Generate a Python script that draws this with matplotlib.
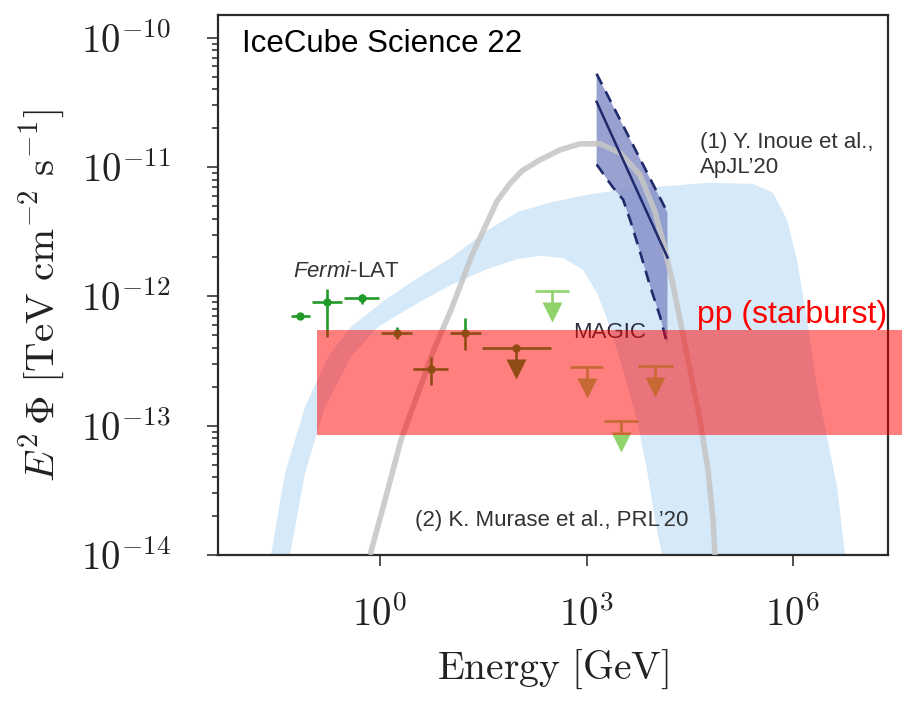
import numpy as np
import matplotlib.pyplot as plt
from matplotlib.patches import Rectangle
from matplotlib.ticker import FixedLocator, FixedFormatter, NullLocator, LogLocator, NullFormatter

plt.rcParams['font.family'] = ['Liberation Sans', 'DejaVu Sans']
plt.rcParams['mathtext.fontset'] = 'cm'
# used only by texts drawn with math_fontfamily='custom'
plt.rcParams['mathtext.rm'] = 'Liberation Sans'
plt.rcParams['mathtext.it'] = 'Liberation Sans:italic'

# Fermi-LAT flux points [GeV], [TeV cm^-2 s^-1]
fermi_E = np.array([0.069, 0.17, 0.55, 1.77, 5.5, 17.2])
fermi_E_lo = np.array([0.051, 0.103, 0.30, 1.035, 3.0, 10.4])
fermi_E_hi = np.array([0.096, 0.28, 0.97, 2.92, 9.7, 29.3])
fermi_F = np.array([7.06e-13, 9.06e-13, 9.73e-13, 5.22e-13, 2.75e-13, 5.22e-13])
fermi_F_lo = np.array([6.8e-13, 4.86e-13, 8.75e-13, 4.69e-13, 2.07e-13, 3.85e-13])
fermi_F_hi = np.array([7.3e-13, 1.14e-12, 1.04e-12, 5.81e-13, 3.40e-13, 6.82e-13])

# Fermi-LAT upper limit (last bin)
fermi_ul_E = np.array([94.6])
fermi_ul_E_lo = np.array([30.3])
fermi_ul_E_hi = np.array([305.0])
fermi_ul_F = np.array([4.0e-13])

# MAGIC upper limits
magic_E = np.array([316, 1017, 3170, 9890])
magic_E_lo = np.array([179, 576, 1796, 5600])
magic_E_hi = np.array([557, 1738, 5600, 18070])
magic_F = np.array([1.10e-12, 2.85e-13, 1.09e-13, 2.90e-13])

# IceCube neutrino spectrum: best fit and 1 sigma contour
icecube_E = np.array([1.4e3, 1.5e4])
icecube_best = np.array([3.2e-11, 2.0e-12])
icecube_upper = np.array([5.27e-11, 4.45e-12])
icecube_lower_E = np.array([1.4e3, 2.4e3, 3.4e3, 4.3e3, 6.0e3, 8.4e3, 1.17e4, 1.5e4])
icecube_lower_F = np.array([1.05e-11, 7.0e-12, 5.6e-12, 3.9e-12, 2.2e-12, 1.2e-12, 7.0e-13, 4.2e-13])

# disk-corona model band (log10 E, log10 E^2 Phi): outer and inner edges
band_outer_logE = np.array([-1.584, -1.380, -1.090, -0.755, -0.421, 0.073, 0.552, 1.032, 1.526,
                            2.005, 2.513, 3.007, 3.487, 4.213, 4.751, 5.419, 5.710, 5.913,
                            6.058, 6.204, 6.349, 6.494, 6.640, 6.756])
band_outer_logF = np.array([-14.0, -13.366, -12.855, -12.468, -12.236, -12.027, -11.857, -11.702,
                            -11.501, -11.346, -11.269, -11.215, -11.176, -11.145, -11.122, -11.130,
                            -11.199, -11.408, -11.718, -12.182, -12.700, -13.087, -13.474, -14.0])
band_inner_logE = np.array([-1.308, -1.090, -0.799, -0.421, -0.029, 0.552, 1.032, 1.526, 2.005,
                            2.325, 2.659, 2.949, 3.153, 3.342, 3.530, 3.734, 3.879, 3.995, 4.097])
band_inner_logF = np.array([-14.0, -13.366, -12.855, -12.468, -12.236, -12.050, -11.911, -11.795,
                            -11.710, -11.687, -11.702, -11.795, -11.973, -12.236, -12.569, -12.956,
                            -13.342, -13.729, -14.0])

# second model curve (log10 E, log10 E^2 Phi)
model_logE = np.array([-0.145, 0.073, 0.305, 0.552, 0.799, 1.032, 1.337, 1.526, 1.700, 1.889,
                       2.063, 2.325, 2.615, 2.906, 3.196, 3.487, 3.777, 3.995, 4.141, 4.257,
                       4.359, 4.504, 4.649, 4.765, 4.838, 4.867])
model_logF = np.array([-14.0, -13.574, -13.110, -12.747, -12.391, -12.104, -11.679, -11.462,
                       -11.263, -11.127, -11.029, -10.944, -10.867, -10.820, -10.820, -10.890,
                       -11.060, -11.346, -11.640, -11.911, -12.182, -12.569, -12.956, -13.342,
                       -13.729, -14.0])

# pp (starburst) expectation box
pp_E_min = 0.122
pp_F_min, pp_F_max = 8.5e-14, 5.5e-13

x_ticks = [1e0, 1e3, 1e6]
x_tick_labels = [r'$10^{0}$', r'$10^{3}$', r'$10^{6}$']
y_ticks = [1e-14, 1e-13, 1e-12, 1e-11, 1e-10]
y_tick_labels = [r'$10^{-14}$', r'$10^{-13}$', r'$10^{-12}$', r'$10^{-11}$', r'$10^{-10}$']

green = '#229a2a'
light_green = '#8fd36a'
navy = '#1f2b6c'
ARROW = 0.16  # decades from the cap to the centre of the arrow head


def upper_limits(ax, E, lo, hi, F, color):
    ax.hlines(F, lo, hi, color=color, lw=1.9, zorder=5)
    tip = F * 10 ** -ARROW
    for e, f, t in zip(E, F, tip):
        ax.plot([e, e], [f, t], color=color, lw=1.9, zorder=5)
    ax.plot(E, tip, 'v', color=color, ms=14.5, mec='none', zorder=5)


fig = plt.figure(figsize=(9.03, 7.07), dpi=100)
ax = fig.add_axes([218 / 903, 1 - 555 / 707, 670 / 903, 540 / 707])
ax.set_xscale('log')
ax.set_yscale('log')

ax.fill(10 ** np.concatenate([band_outer_logE, band_inner_logE[::-1]]),
        10 ** np.concatenate([band_outer_logF, band_inner_logF[::-1]]),
        color='#d5e9f8', lw=0, zorder=1)

ax.fill(np.concatenate([icecube_E, icecube_lower_E[::-1]]),
        np.concatenate([icecube_upper, icecube_lower_F[::-1]]),
        color='#8791c8', lw=0, alpha=0.85, zorder=2)

ax.plot(10 ** model_logE, 10 ** model_logF, color='#c6c6c6', lw=4.0, alpha=0.88,
        solid_capstyle='butt', solid_joinstyle='round', zorder=3)

ax.plot(icecube_E, icecube_best, color=navy, lw=1.8, zorder=4)
ax.plot(icecube_E, icecube_upper, color=navy, lw=1.9, ls=(0, (4.5, 3)), zorder=4)
ax.plot(icecube_lower_E, icecube_lower_F, color=navy, lw=1.9, ls=(0, (4.5, 3)), zorder=4)

ax.errorbar(fermi_E, fermi_F,
            xerr=[fermi_E - fermi_E_lo, fermi_E_hi - fermi_E],
            yerr=[fermi_F - fermi_F_lo, fermi_F_hi - fermi_F],
            fmt='o', ms=5, color=green, elinewidth=1.9, capsize=0, zorder=5)
ax.plot(fermi_ul_E, fermi_ul_F, 'o', ms=5, color=green, zorder=5)
upper_limits(ax, fermi_ul_E, fermi_ul_E_lo, fermi_ul_E_hi, fermi_ul_F, green)
upper_limits(ax, magic_E, magic_E_lo, magic_E_hi, magic_F, light_green)

ax.text(0.112, 0.5148, r'$\it{Fermi}$-LAT', transform=ax.transAxes, fontsize=16,
        color='#333333', va='baseline', math_fontfamily='custom', zorder=5)
ax.text(0.530, 0.4019, 'MAGIC', transform=ax.transAxes, fontsize=16,
        color='#2a2a3a', va='baseline', zorder=5)
ax.text(0.7194, 0.7537, '(1) Y. Inoue et al.,', transform=ax.transAxes, fontsize=16,
        color='#333333', va='baseline', zorder=5)
ax.text(0.7194, 0.7074, "ApJL\u201920", transform=ax.transAxes, fontsize=16,
        color='#333333', va='baseline', zorder=5)
ax.text(0.294, 0.0537, "(2) K. Murase et al., PRL\u201920", transform=ax.transAxes,
        fontsize=16, color='#333333', va='baseline', zorder=5)
ax.text(0.0358, 0.9315, 'IceCube Science 22', transform=ax.transAxes, fontsize=22.5,
        color='black', va='baseline', zorder=7)

# pp (starburst) box, running out past the right spine
ax.add_patch(Rectangle((pp_E_min, pp_F_min), 10 ** 7.8 - pp_E_min, pp_F_max - pp_F_min,
                       facecolor='#ff0000', alpha=0.5, lw=0, clip_on=False, zorder=6))
ax.text(0.7149, 0.4296, 'pp (starburst)', transform=ax.transAxes, fontsize=23,
        color='#ff0000', va='baseline', clip_on=False, zorder=7)

ax.set_xlim(10 ** -2.354, 10 ** 7.38)
ax.set_ylim(1e-14, 1.5e-10)

ax.xaxis.set_major_locator(FixedLocator(x_ticks))
ax.xaxis.set_major_formatter(FixedFormatter(x_tick_labels))
ax.xaxis.set_minor_locator(NullLocator())
ax.yaxis.set_major_locator(FixedLocator(y_ticks))
ax.yaxis.set_major_formatter(FixedFormatter(y_tick_labels))
ax.yaxis.set_minor_locator(LogLocator(base=10, subs=np.arange(2, 10)))
ax.yaxis.set_minor_formatter(NullFormatter())

ax.tick_params(which='major', direction='out', length=8, width=1.2, color='#333333',
               labelsize=28, labelcolor='#222222')
ax.tick_params(which='minor', direction='out', length=4.5, width=1.2, color='#333333')
ax.tick_params(axis='x', pad=21)
ax.tick_params(axis='y', pad=26)

for s in ax.spines.values():
    s.set_linewidth(1.6)
    s.set_color('#2a2a2a')

ax.set_xlabel(r'$\mathrm{Energy\ [GeV]}$', fontsize=28.5, color='#222222')
ax.xaxis.set_label_coords(0.5, -0.172)
ax.set_ylabel(r'$E^2\,\Phi\ [\mathrm{TeV\ cm^{-2}\ s^{-1}}]$', fontsize=29.5, color='#222222')
ax.yaxis.set_label_coords(-0.226, 0.48)

fig.savefig('out.png', dpi=100)
